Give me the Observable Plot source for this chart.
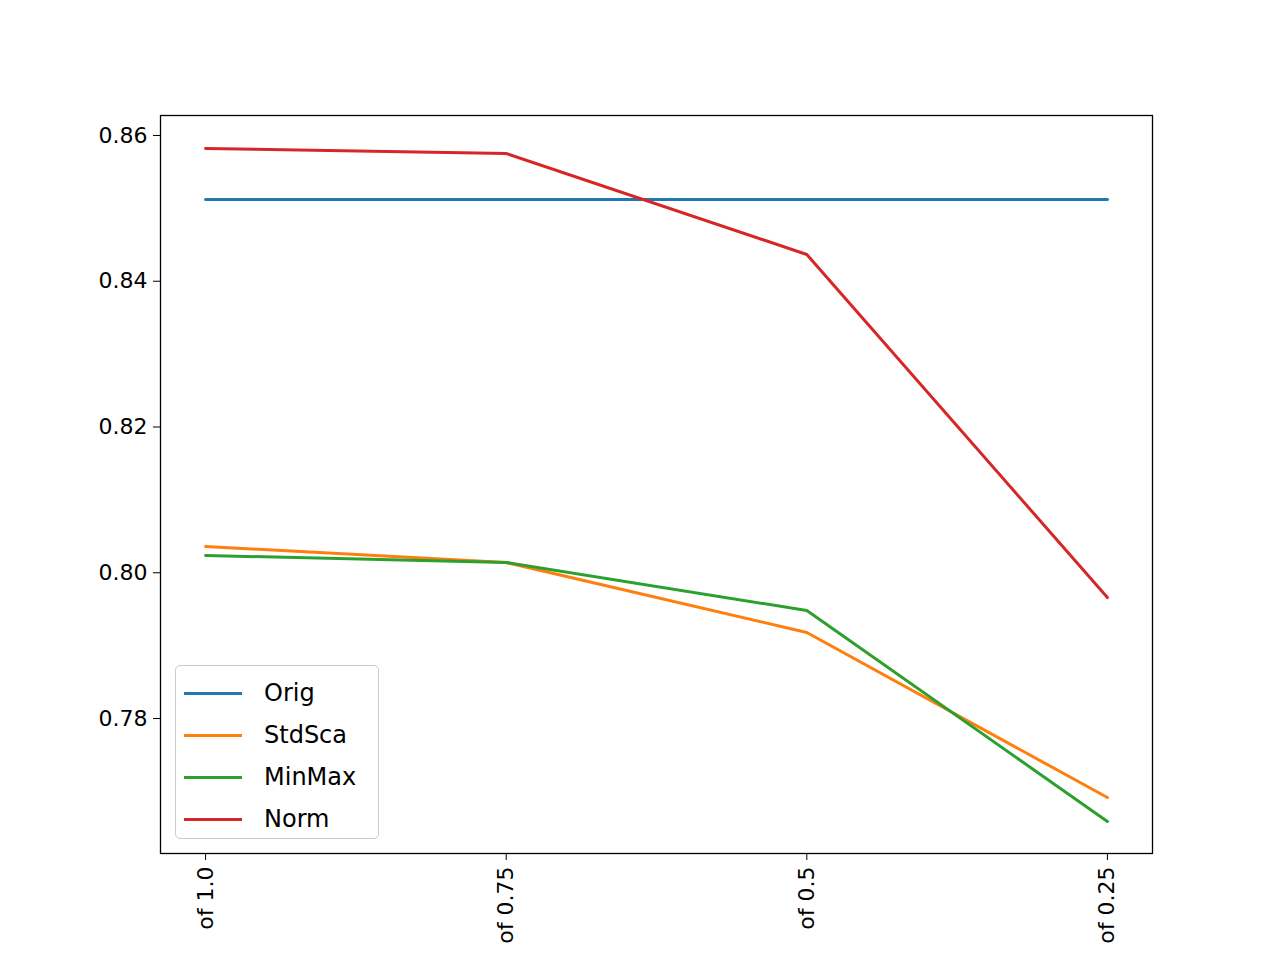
<!DOCTYPE html>
<html><head><meta charset="utf-8">
<script src="https://cdn.jsdelivr.net/npm/d3@7"></script>
<script src="https://cdn.jsdelivr.net/npm/@observablehq/plot@0.6"></script>
<style>
body{margin:0;background:#fff;font-family:"DejaVu Sans",sans-serif;}
#wrap{position:relative;width:1280px;height:960px;overflow:hidden}
#legend{position:absolute;left:175px;top:665px;width:204px;height:174px;border:1.5px solid #ccc;border-radius:5px;background:rgba(255,255,255,0.8);box-sizing:border-box;padding-top:6px}
.row{display:flex;align-items:center;height:42px;font-size:24px}
.sw{width:58px;height:3px;margin:0 22px 0 8px}
</style></head><body>
<div id="wrap"><div id="chart"></div><div id="legend"></div></div>
<script>
const tickLabels = ["of 1.0", "of 0.75", "of 0.5", "of 0.25"];
const seriesNames = ["Orig", "StdSca", "MinMax", "Norm"];
const colors = ["#1f77b4", "#ff7f0e", "#2ca02c", "#d62728"];
const orig = [0.85122, 0.85122, 0.85122, 0.85122];
const stdSca = [0.80360, 0.80141, 0.79180, 0.76916];
const minMax = [0.80237, 0.80141, 0.79482, 0.76587];
const norm = [0.85822, 0.85753, 0.84367, 0.79660];

const allSeries = [orig, stdSca, minMax, norm];
const rows = allSeries.flatMap((vals, s) => vals.map((v, i) => ({i, v, s: seriesNames[s]})));

const plot = Plot.plot({
  width: 1280, height: 960,
  marginTop: 115, marginBottom: 107, marginLeft: 160, marginRight: 128,
  style: {fontFamily: "DejaVu Sans", fontSize: "22px", color: "#000", background: "#fff"},
  x: {domain: [-0.15, 3.15]},
  y: {domain: [0.76148, 0.86274]},
  color: {domain: seriesNames, range: colors},
  marks: [
    Plot.frame({stroke: "#000", strokeWidth: 1.3}),
    Plot.axisY({ticks: [0.78, 0.80, 0.82, 0.84, 0.86], tickFormat: d => d.toFixed(2), tickSize: 7, tickPadding: 6, label: null}),
    Plot.axisX({ticks: [0, 1, 2, 3], tickFormat: i => tickLabels[i], tickSize: 7, tickRotate: -90, tickPadding: 6, label: null}),
    Plot.line(rows, {x: "i", y: "v", z: "s", stroke: "s", strokeWidth: 3})
  ]
});
document.getElementById("chart").append(plot);

const lg = document.getElementById("legend");
seriesNames.forEach((n, k) => {
  const r = document.createElement("div"); r.className = "row";
  r.innerHTML = `<span class="sw" style="background:${colors[k]}"></span><span>${n}</span>`;
  lg.append(r);
});
</script></body></html>
